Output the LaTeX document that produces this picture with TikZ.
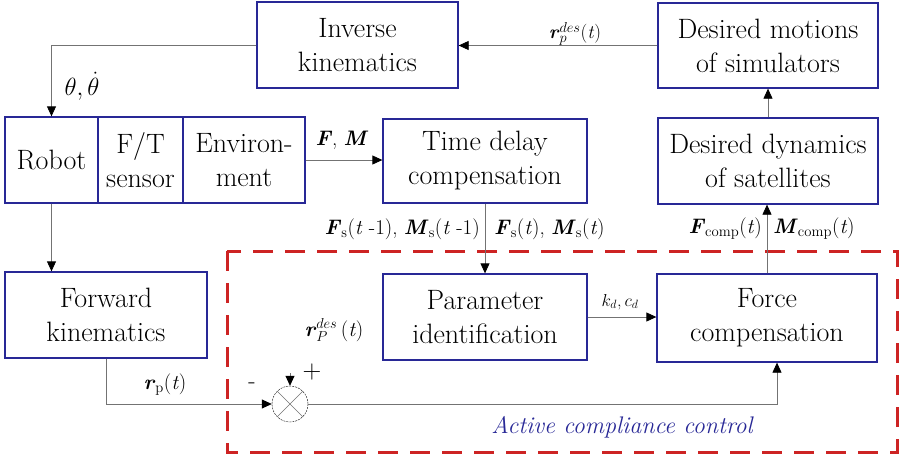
\documentclass[tikz,border=0pt]{standalone}
\usepackage{fontspec}
\usetikzlibrary{arrows.meta,calc}
\definecolor{boxblue}{RGB}{40,40,150}
\definecolor{dashred}{RGB}{205,35,35}
\definecolor{linegray}{RGB}{115,115,115}
\newcommand{\bv}[1]{\textbf{\textit{#1}}}
\begin{document}
\begin{tikzpicture}[x=1pt, y=-1pt,
    blk/.style={draw=boxblue, line width=1.3pt, fill=white, inner sep=0pt, align=center,
      font=\fontsize{28}{34}\selectfont},
    sig/.style={draw=linegray, line width=0.8pt, -{Triangle[width=9pt,length=10pt,color=black]}},
    lbl/.style={inner sep=0pt, font=\fontsize{21}{24}\selectfont},
    small/.style={inner sep=0pt, font=\fontsize{19}{21}\selectfont}]
  \useasboundingbox (0,0) rectangle (900,460);
  % active compliance region
  \draw[dashred, line width=3pt, dash pattern=on 20pt off 12pt] (227,251) rectangle (897,452);
  \node[text=boxblue, font=\fontsize{24}{26}\selectfont\itshape] (acc) at (622,427) {Active compliance control};
  % blocks
  \node[blk, minimum width=201pt, minimum height=86pt] (ik) at (357.5,45) {Inverse\\kinematics};
  \node[blk, minimum width=220pt, minimum height=85pt] (dm) at (768,45.5) {Desired motions\\of simulators};
  \node[blk, minimum width=220pt, minimum height=86pt] (dd) at (768,161) {Desired dynamics\\of satellites};
  \node[blk, minimum width=93pt, minimum height=86pt] (robot) at (51.5,160) {Robot};
  \node[blk, minimum width=85pt, minimum height=86pt] (ft) at (140.5,160) {F/T\\sensor};
  \node[blk, minimum width=122pt, minimum height=86pt] (env) at (244,160) {Environ-\\ment};
  \node[blk, minimum width=204pt, minimum height=84pt] (td) at (485,161) {Time delay\\compensation};
  \node[blk, minimum width=202pt, minimum height=86pt] (fk) at (106,315) {Forward\\kinematics};
  \node[blk, minimum width=204pt, minimum height=86pt] (pid) at (485,317) {Parameter\\identification};
  \node[blk, minimum width=220pt, minimum height=88pt] (fc) at (767,318) {Force\\compensation};
  % summing junction
  \node[circle, draw=black, thin, dash pattern=on 2pt off 1pt, minimum size=36pt, inner sep=0pt] (sum) at (290,404) {};
  \draw[linegray, thin] (sum.north west) -- (sum.south east) (sum.north east) -- (sum.south west);
  \coordinate (rin) at (290,373);
  % connectors
  \draw[sig] (ik.west) -| (robot.north);
  \draw[sig] (robot.south) -- (robot.south |- fk.north);
  \draw[sig] (env.east) -- (env.east -| td.west);
  \draw[sig] (dm.west) -- (dm.west -| ik.east);
  \draw[sig] (dd.north) -- (dm.south);
  \draw[sig] (fc.north) -- (fc.north |- dd.south);
  \draw[sig] (td.south) -- (pid.north);
  \draw[sig] (pid.east) -- (pid.east -| fc.west);
  \draw[sig] (fk.south) |- (sum.west);
  \draw[sig] (sum.east) -| ($(fc.south)+(10,0)$);
  \draw[sig] (rin) -- (sum.north);
  % signal labels
  \node[inner sep=0pt, font=\fontsize{26}{28}\selectfont] (th) at (82,86) {$\theta,\dot{\theta}$};
  \node[lbl] (fm) at (342,140) {\bv{F}, \bv{M}};
  \node[small] (rdes) at (575,34) {\bv{r}$_{p}^{des}$(\textit{t})};
  \node[lbl, anchor=east] (fsold) at (480,229) {\bv{F}\textsubscript{s}(\textit{t} -1), \bv{M}\textsubscript{s}(\textit{t} -1)};
  \node[lbl, anchor=west] (fsnew) at (494,229) {\bv{F}\textsubscript{s}(\textit{t}), \bv{M}\textsubscript{s}(\textit{t})};
  \node[lbl, anchor=east] (fcomp) at (762,229) {\bv{F}\textsubscript{comp}(\textit{t})};
  \node[lbl, anchor=west] (mcomp) at (773,229) {\bv{M}\textsubscript{comp}(\textit{t})};
  \node[inner sep=0pt, font=\fontsize{18}{20}\selectfont] (kc) at (620,302) {$k_{d}$,\,$c_{d}$};
  \node[lbl] (rp) at (165,385) {\bv{r}\textsubscript{p}(\textit{t})};
  \node[lbl] (rpdes) at (334,330) {\bv{r}$_{P}^{des}$\,(\textit{t})};
  \node[inner sep=0pt, font=\fontsize{24}{26}\selectfont] (minus) at (252,386) {-};
  \node[inner sep=0pt, font=\fontsize{26}{28}\selectfont] (plus) at (312,372) {+};
\end{tikzpicture}
\end{document}
